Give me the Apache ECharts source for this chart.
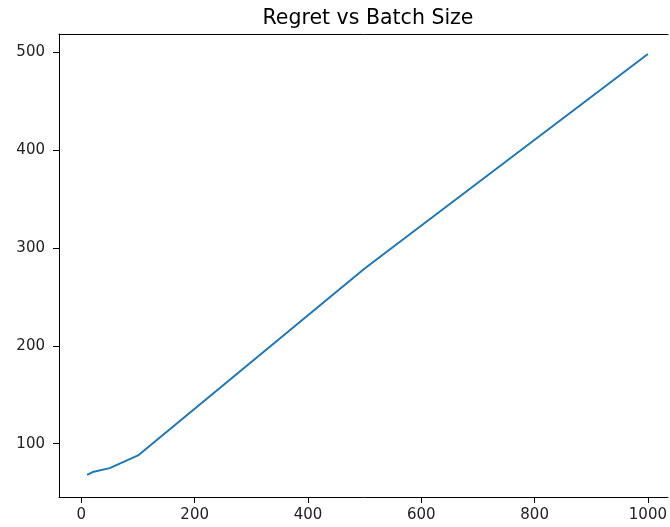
<!DOCTYPE html>
<html>
<head>
<meta charset="utf-8">
<script src="https://cdn.jsdelivr.net/npm/echarts@6/dist/echarts.min.js"></script>
<style>
  html, body { margin: 0; padding: 0; background: #fff; }
  #chart { width: 670px; height: 527px; }
</style>
</head>
<body>
<div id="chart"></div>
<script>
  // batch sizes and the regret
  const batchSizes = [10, 20, 50, 100, 500, 1000]
  const regret = [68, 71, 75, 88, 279, 498]
  const xTicks = [0, 200, 400, 600, 800, 1000]
  const yTicks = [100, 200, 300, 400, 500]

  const chart = echarts.init(document.getElementById('chart'), null, { renderer: 'canvas' })
  const font = 'DejaVu Sans'
  const plain = v => String(v)

  const option = {
    animation: false,
    title: {
      text: 'Regret vs Batch Size',
      left: 363,
      top: 3,
      textAlign: 'center',
      textStyle: { fontFamily: font, fontSize: 20.5, fontWeight: 'normal', color: '#000' }
    },
    grid: { left: 59, top: 34, bottom: 30, right: 0 },
    xAxis: [
      {
        type: 'value',
        min: -39.5,
        max: 1035.5,
        splitLine: { show: false },
        axisLine: { show: true, onZero: false, lineStyle: { color: '#000', width: 1 } },
        axisTick: { show: true, length: 6, customValues: xTicks, lineStyle: { color: '#000' } },
        axisLabel: { customValues: xTicks, formatter: plain, margin: 11, fontFamily: font, fontSize: 15, color: '#222' }
      },
      {
        // top spine
        type: 'value',
        position: 'top',
        min: -39.5,
        max: 1035.5,
        splitLine: { show: false },
        axisLine: { show: true, onZero: false, lineStyle: { color: '#000', width: 1 } },
        axisTick: { show: false },
        axisLabel: { show: false }
      }
    ],
    yAxis: {
      type: 'value',
      min: 45.5,
      max: 518.5,
      splitLine: { show: false },
      axisLine: { show: true, onZero: false, lineStyle: { color: '#000', width: 1 } },
      axisTick: { show: true, length: 6, customValues: yTicks, lineStyle: { color: '#000' } },
      axisLabel: { customValues: yTicks, formatter: plain, margin: 14, fontFamily: font, fontSize: 15, color: '#222' }
    },
    series: [
      {
        type: 'line',
        data: batchSizes.map((b, i) => [b, regret[i]]),
        showSymbol: false,
        lineStyle: { color: '#1f77b4', width: 2 },
        clip: false
      }
    ]
  }

  chart.setOption(option)
</script>
</body>
</html>
